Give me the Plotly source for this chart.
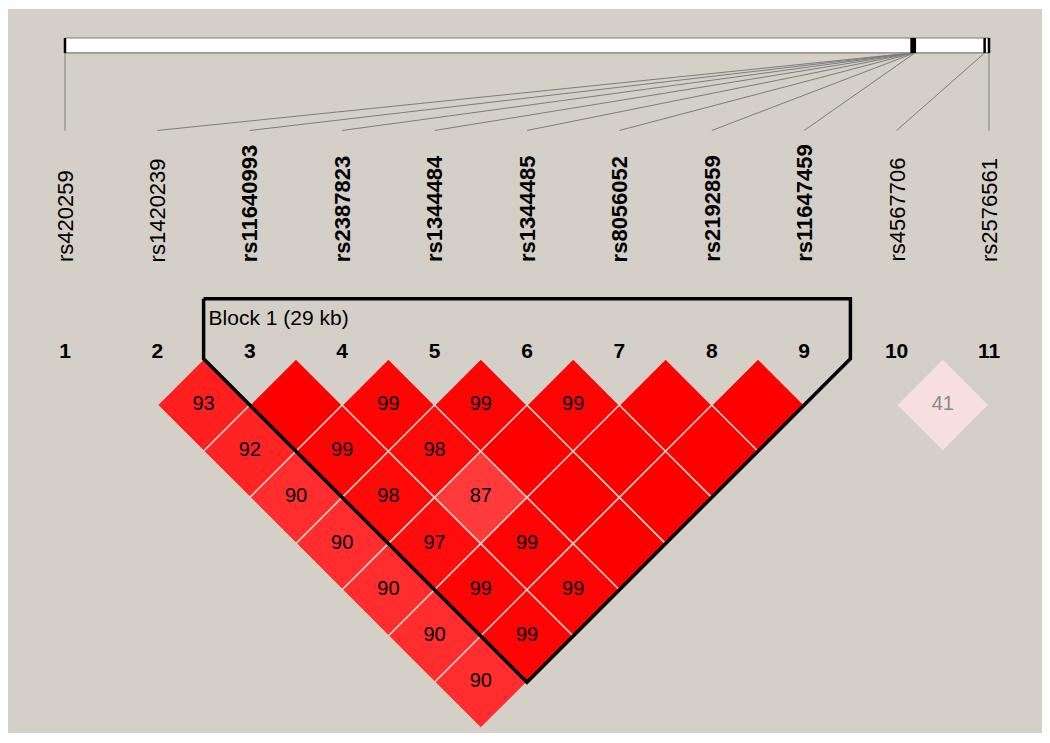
"""
Haploview 风格 LD 图 (D' 值)
"""

import plotly.graph_objects as go

# SNP 信息
snp_ids = list(range(1, 12))
snp_names = [
    "rs420259", "rs1420239", "rs11640993", "rs2387823", "rs1344484",
    "rs1344485", "rs8056052", "rs2192859", "rs11647459", "rs4567706", "rs2576561",
]
in_block = [False, False, True, True, True, True, True, True, True, False, False]
snp_pos_kb = [0, 8310, 8311, 8316, 8320, 8326, 8331, 8336, 8340, 9025, 9068]

# 成对 D' (x100), 100 表示完全连锁 (不显示数字)
pair_a = [2, 2, 2, 2, 2, 2, 2, 3, 3, 3, 3, 3, 3, 4, 4, 4, 4, 4, 5, 5, 5, 5, 6, 6, 6, 7, 7, 8, 10]
pair_b = [3, 4, 5, 6, 7, 8, 9, 4, 5, 6, 7, 8, 9, 5, 6, 7, 8, 9, 6, 7, 8, 9, 7, 8, 9, 8, 9, 9, 11]
dprime = [93, 92, 90, 90, 90, 90, 90, 100, 99, 98, 97, 99, 99, 99, 98, 87, 99, 99,
          99, 100, 100, 100, 99, 100, 100, 100, 100, 100, 41]
lod_high = [True] * 28 + [False]

# 单倍型块
block_first, block_last = 3, 9
block_label = "Block 1 (29 kb)"

BG = "#d4d0c8"
FONT = "Liberation Sans"
PX = 92.4  # 每个 SNP 间距的像素
PAGE_OFF = 8  # 浏览器 body 默认边距

# 纵向坐标 (以 SNP 间距为单位, 0 = 第一行菱形顶点)
Y_BAR_TOP = -3.472
Y_BAR_BOT = -3.310
Y_LINE_END = -2.471
Y_LABEL = -1.026
Y_NUM = -0.068
Y_BLOCK_TOP = -0.65


def cell_color(d, lod_ok):
    if not lod_ok:
        return "rgb(247,223,223)"
    blgr = min(223, round(446 * (1 - d / 100)))
    return f"rgb(255,{blgr},{blgr})"


def bar_x(pos):
    return snp_ids[0] + (snp_ids[-1] - snp_ids[0]) * (pos - snp_pos_kb[0]) / (snp_pos_kb[-1] - snp_pos_kb[0])


fig = go.Figure()

# 顶部物理位置条
x0, x1 = bar_x(snp_pos_kb[0]), bar_x(snp_pos_kb[-1])
fig.add_trace(go.Scatter(
    x=[x0, x1, x1, x0, x0],
    y=[Y_BAR_TOP, Y_BAR_TOP, Y_BAR_BOT, Y_BAR_BOT, Y_BAR_TOP],
    mode="lines", fill="toself", fillcolor="white",
    line=dict(color="#7a7a7a", width=1.2), hoverinfo="skip",
))

# 位置刻度 + 连接线
tick_x, tick_y, fan_x, fan_y = [], [], [], []
for sid, pos in zip(snp_ids, snp_pos_kb):
    bx = bar_x(pos)
    tick_x += [bx, bx, None]
    tick_y += [Y_BAR_TOP, Y_BAR_BOT, None]
    fan_x += [bx, sid, None]
    fan_y += [Y_BAR_BOT, Y_LINE_END, None]
fig.add_trace(go.Scatter(x=fan_x, y=fan_y, mode="lines",
                         line=dict(color="#7c7c7c", width=1), hoverinfo="skip"))
fig.add_trace(go.Scatter(x=tick_x, y=tick_y, mode="lines",
                         line=dict(color="black", width=2.5), hoverinfo="skip"))

# LD 菱形
txt_x, txt_y, txt_s, txt_c = [], [], [], []
for a, b, d, ok in zip(pair_a, pair_b, dprime, lod_high):
    cx = (a + b) / 2
    cy = 0.5 * (b - a)
    fig.add_trace(go.Scatter(
        x=[cx, cx + 0.5, cx, cx - 0.5, cx],
        y=[cy - 0.5, cy, cy + 0.5, cy, cy - 0.5],
        mode="lines", fill="toself", fillcolor=cell_color(d, ok),
        line=dict(color=BG, width=1.5), hoverinfo="skip",
    ))
    if d < 100:
        txt_x.append(cx)
        txt_y.append(cy)
        txt_s.append(str(d))
        txt_c.append("black" if ok else "#8a8a8a")

fig.add_trace(go.Scatter(
    x=txt_x, y=txt_y, text=txt_s, mode="text",
    textfont=dict(family=FONT, size=20, color=txt_c), hoverinfo="skip",
))

# 单倍型块边框
ba, bb = block_first, block_last
fig.add_trace(go.Scatter(
    x=[ba - 0.5, bb + 0.5, bb + 0.5, (ba + bb) / 2, ba - 0.5, ba - 0.5],
    y=[Y_BLOCK_TOP, Y_BLOCK_TOP, 0, 0.5 * (bb - ba) + 0.5, 0, Y_BLOCK_TOP],
    mode="lines", line=dict(color="black", width=3.5), hoverinfo="skip",
))
fig.add_trace(go.Scatter(
    x=[ba - 0.5 + 5 / PX], y=[-0.42], text=[block_label], mode="text",
    textposition="middle right",
    textfont=dict(family=FONT, size=21, color="black"), hoverinfo="skip",
))

# SNP 编号
fig.add_trace(go.Scatter(
    x=snp_ids, y=[Y_NUM] * len(snp_ids),
    text=[f"<b>{i}</b>" for i in snp_ids], mode="text",
    textfont=dict(family=FONT, size=21, color="black"), hoverinfo="skip",
))

# SNP 名称 (竖排)
for sid, name, bold in zip(snp_ids, snp_names, in_block):
    fig.add_annotation(
        x=sid, y=Y_LABEL, text=f"<b>{name}</b>" if bold else name,
        textangle=-90, showarrow=False, xanchor="center", yanchor="bottom",
        font=dict(family=FONT, size=22, color="black"),
    )

# 布局: 绘图区即灰色面板 (页面像素 8..1045, 9..733)
left, top, right, bottom = 8, 9, 1045, 733
W, H = 1050, 743
x_lo = snp_ids[0] + (left - 65) / PX
x_hi = snp_ids[0] + (right - 65) / PX
y_lo = (top - 358.8) / PX
y_hi = (bottom - 358.8) / PX

fig.update_layout(
    width=W, height=H,
    margin=dict(l=left - PAGE_OFF, r=W - (right - PAGE_OFF), t=top - PAGE_OFF,
                b=H - (bottom - PAGE_OFF), pad=0),
    paper_bgcolor="white", plot_bgcolor=BG,
    showlegend=False,
    xaxis=dict(range=[x_lo, x_hi], visible=False, fixedrange=True),
    yaxis=dict(range=[y_hi, y_lo], visible=False, fixedrange=True),
)

fig.write_html("out.html")
